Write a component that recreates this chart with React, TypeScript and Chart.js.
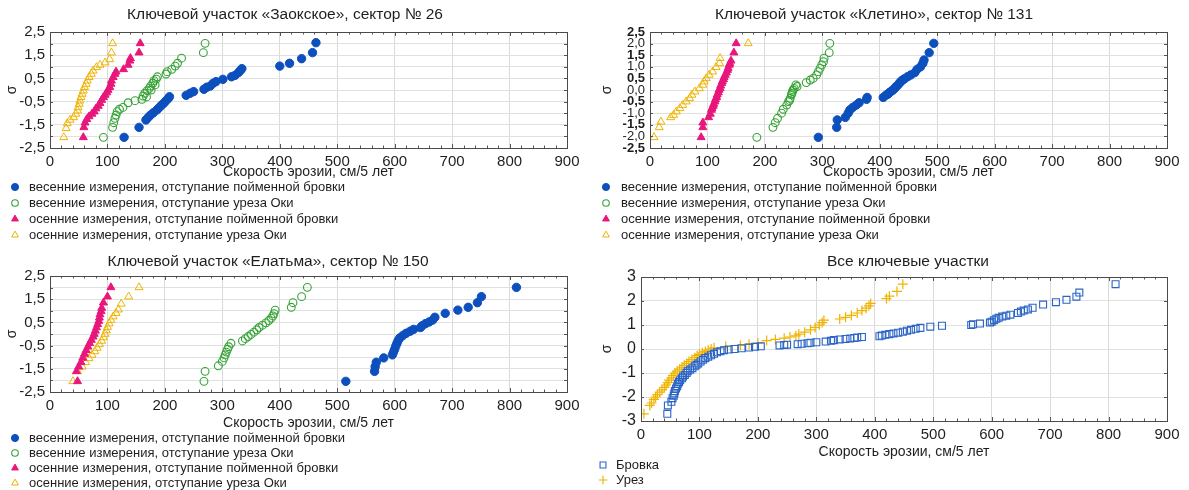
import { useEffect, useRef } from 'react';
import { Chart, registerables } from 'chart.js';
import { drawPoint } from 'chart.js/helpers';

Chart.register(...registerables);

type Pt = [number, number];

// ---------- Ключевой участок «Заокское», сектор № 26 ----------
const zaokBankSpring: Pt[] = [[129,-2.04],[155,-1.61],[167,-1.29],[171,-1.18],[175,-1.08],[180,-0.98],[186,-0.86],[190,-0.76],[194,-0.66],[198,-0.57],[202,-0.46],[206,-0.36],[208,-0.29],[237,-0.23],[244,-0.14],[250,-0.07],[268,0.03],[273,0.12],[279,0.17],[284,0.29],[289,0.36],[301,0.46],[316,0.57],[322,0.63],[328,0.75],[331,0.83],[334,0.92],[400,1.03],[417,1.15],[438,1.35],[457,1.61],[463,2.04]];
const zaokWaterSpring: Pt[] = [[93,-2.04],[109,-1.61],[111,-1.41],[113,-1.22],[115,-1.08],[117,-0.93],[121,-0.83],[127,-0.75],[136,-0.55],[148,-0.46],[160,-0.4],[162,-0.26],[165,-0.14],[168,-0.3],[169,-0.03],[173,0.07],[175,0.17],[176,0.0],[179,0.29],[181,0.4],[183,0.22],[185,0.47],[187,0.57],[202,0.69],[204,0.79],[212,0.89],[218,1.03],[222,1.15],[229,1.37],[267,1.61],[270,2.01]];
const zaokBankAutumn: Pt[] = [[58,-2.04],[59,-1.61],[61,-1.41],[64,-1.26],[68,-1.14],[73,-1.03],[77,-0.93],[80,-0.8],[84,-0.69],[87,-0.57],[90,-0.43],[93,-0.31],[96,-0.21],[99,-0.11],[101,0.0],[104,0.12],[106,0.26],[107,0.4],[110,0.55],[113,0.69],[115,0.79],[128,0.89],[136,1.08],[139,1.26],[140,1.37],[155,1.61],[157,2.01]];
const zaokWaterAutumn: Pt[] = [[24,-2.04],[28,-1.65],[30,-1.44],[35,-1.29],[41,-1.18],[45,-1.03],[48,-0.89],[49,-0.75],[51,-0.6],[52,-0.46],[54,-0.31],[56,-0.17],[58,-0.03],[60,0.12],[63,0.26],[65,0.4],[68,0.55],[72,0.69],[75,0.83],[81,0.98],[87,1.08],[96,1.18],[104,1.32],[107,1.61],[109,2.01]];

// ---------- Ключевой участок «Клетино», сектор № 131 ----------
const kletBankSpring: Pt[] = [[293,-2.04],[325,-1.61],[326,-1.29],[340,-1.18],[345,-1.0],[348,-0.86],[353,-0.75],[359,-0.65],[364,-0.55],[377,-0.4],[378,-0.32],[406,-0.32],[411,-0.22],[414,-0.18],[417,-0.11],[420,-0.05],[423,0.0],[426,0.07],[428,0.14],[431,0.2],[434,0.29],[436,0.34],[438,0.4],[441,0.45],[444,0.5],[449,0.58],[454,0.65],[461,0.75],[465,0.89],[471,1.0],[475,1.15],[477,1.29],[486,1.61],[494,2.01]];
const kletWaterSpring: Pt[] = [[186,-2.04],[214,-1.61],[218,-1.41],[222,-1.22],[229,-1.0],[232,-0.83],[238,-0.65],[241,-0.5],[243,-0.45],[244,-0.36],[246,-0.21],[247,-0.15],[248,-0.07],[249,0.0],[251,0.07],[254,0.22],[256,0.15],[272,0.32],[279,0.43],[284,0.5],[290,0.65],[293,0.79],[296,0.93],[299,1.08],[302,1.22],[303,1.37],[312,1.61],[313,2.01]];
const kletBankAutumn: Pt[] = [[89,-2.04],[92,-1.61],[92,-1.41],[102,-1.18],[105,-1.03],[107,-0.86],[108,-0.78],[110,-0.69],[111,-0.6],[113,-0.5],[114,-0.4],[116,-0.31],[117,-0.2],[119,-0.11],[120,0.0],[122,0.07],[123,0.18],[125,0.29],[126,0.38],[128,0.46],[129,0.55],[131,0.65],[133,0.75],[135,0.86],[136,0.95],[138,1.08],[139,1.15],[141,1.26],[146,1.61],[150,2.01]];
const kletWaterAutumn: Pt[] = [[7,-2.04],[16,-1.61],[19,-1.37],[36,-1.18],[41,-1.08],[46,-0.93],[52,-0.79],[57,-0.65],[63,-0.5],[69,-0.36],[73,-0.21],[78,-0.07],[86,0.07],[92,0.22],[94,0.36],[98,0.5],[103,0.65],[109,0.79],[115,0.98],[121,1.15],[122,1.37],[171,2.01]];

// ---------- Ключевой участок «Елатьма», сектор № 150 ----------
const elatBankSpring: Pt[] = [[515,-2.04],[565,-1.61],[566,-1.41],[568,-1.22],[581,-1.03],[596,-0.9],[598,-0.78],[600,-0.66],[602,-0.52],[604,-0.4],[606,-0.28],[609,-0.17],[614,-0.07],[620,0.03],[627,0.12],[633,0.2],[645,0.28],[648,0.36],[654,0.45],[660,0.52],[666,0.6],[670,0.72],[688,0.89],[710,1.03],[728,1.15],[744,1.35],[751,1.61],[812,2.01]];
const elatWaterSpring: Pt[] = [[268,-2.04],[270,-1.61],[293,-1.37],[300,-1.18],[303,-1.03],[305,-0.9],[307,-0.78],[309,-0.66],[311,-0.55],[315,-0.4],[335,-0.3],[340,-0.2],[345,-0.11],[350,-0.02],[355,0.08],[360,0.18],[364,0.28],[370,0.38],[376,0.48],[381,0.58],[385,0.68],[388,0.78],[390,0.88],[392,1.03],[420,1.15],[423,1.35],[438,1.61],[448,2.01]];
const elatBankAutumn: Pt[] = [[48,-2.04],[46,-1.61],[50,-1.41],[54,-1.22],[57,-1.03],[60,-0.86],[63,-0.7],[66,-0.55],[69,-0.4],[72,-0.26],[75,-0.12],[77,0.0],[79,0.14],[81,0.28],[83,0.42],[85,0.56],[86,0.7],[87,0.84],[89,0.98],[90,1.12],[93,1.35],[100,1.61],[106,2.01]];
const elatWaterAutumn: Pt[] = [[40,-2.04],[48,-1.61],[56,-1.41],[62,-1.22],[68,-1.05],[73,-0.9],[78,-0.75],[82,-0.6],[86,-0.45],[90,-0.3],[93,-0.15],[96,0.0],[98,0.15],[100,0.3],[103,0.45],[106,0.6],[110,0.75],[115,0.9],[119,1.05],[124,1.3],[137,1.61],[155,2.01]];

// ---------- Все ключевые участки ----------
const allBank: Pt[] = [[45,-2.7],[46,-2.35],[52,-2.2],[54,-2.05],[56,-1.95],[57,-1.85],[58,-1.75],[60,-1.65],[62,-1.55],[63,-1.45],[65,-1.38],[67,-1.3],[70,-1.22],[72,-1.15],[75,-1.08],[78,-1.0],[80,-0.93],[84,-0.86],[88,-0.8],[92,-0.72],[95,-0.66],[98,-0.6],[102,-0.52],[106,-0.45],[110,-0.38],[115,-0.32],[120,-0.26],[125,-0.2],[130,-0.14],[136,-0.09],[142,-0.05],[150,-0.02],[160,0.0],[172,0.03],[185,0.06],[195,0.09],[205,0.11],[237,0.15],[245,0.17],[250,0.18],[268,0.2],[275,0.22],[285,0.24],[290,0.26],[300,0.28],[316,0.31],[325,0.34],[330,0.37],[340,0.4],[350,0.42],[358,0.44],[365,0.46],[370,0.48],[378,0.5],[408,0.53],[412,0.56],[418,0.59],[425,0.62],[432,0.65],[440,0.68],[448,0.72],[455,0.76],[462,0.8],[470,0.84],[478,0.88],[495,0.93],[515,0.97],[565,1.0],[568,1.03],[580,1.06],[597,1.1],[600,1.14],[604,1.2],[608,1.26],[612,1.3],[618,1.35],[625,1.39],[632,1.43],[645,1.5],[650,1.56],[655,1.6],[662,1.65],[670,1.72],[688,1.85],[710,1.95],[728,2.05],[745,2.18],[750,2.35],[812,2.7]];
const allWater: Pt[] = [[5,-2.7],[15,-2.35],[18,-2.25],[22,-2.1],[25,-2.0],[28,-1.9],[32,-1.8],[36,-1.7],[40,-1.6],[43,-1.5],[46,-1.4],[48,-1.3],[52,-1.2],[55,-1.1],[58,-1.0],[62,-0.92],[66,-0.84],[70,-0.76],[74,-0.68],[78,-0.6],[82,-0.52],[87,-0.44],[92,-0.36],[96,-0.28],[100,-0.22],[105,-0.16],[110,-0.1],[115,-0.05],[120,0.0],[125,0.05],[145,0.1],[170,0.15],[185,0.2],[200,0.25],[215,0.35],[230,0.4],[245,0.45],[255,0.5],[265,0.55],[270,0.62],[280,0.7],[290,0.8],[298,0.9],[305,1.0],[310,1.1],[313,1.2],[340,1.25],[350,1.32],[360,1.4],[370,1.5],[378,1.6],[385,1.7],[390,1.8],[393,1.9],[420,2.1],[425,2.2],[438,2.4],[448,2.7]];

const titleZaok = 'Ключевой участок «Заокское», сектор № 26';
const titleKlet = 'Ключевой участок «Клетино», сектор № 131';
const titleElat = 'Ключевой участок «Елатьма», сектор № 150';
const titleAll = 'Все ключевые участки';
const xAxisTitle = 'Скорость эрозии, см/5 лет';
const yAxisTitle = 'σ';
const legendFour = [
  'весенние измерения, отступание пойменной бровки',
  'весенние измерения, отступание уреза Оки',
  'осенние измерения, отступание пойменной бровки',
  'осенние измерения, отступание уреза Оки',
];
const legendTwo = ['Бровка', 'Урез'];

const FONT = "'Liberation Sans', Arial, sans-serif";
const TEXT = '#1e1e1e';

type Sty = { pointStyle: string; radius: number; fill: string; stroke: string; bw: number };
const S_BANK_SPRING: Sty = { pointStyle: 'circle', radius: 4.2, fill: '#0c4fbd', stroke: '#0c4fbd', bw: 1 };
const S_WATER_SPRING: Sty = { pointStyle: 'circle', radius: 3.9, fill: 'rgba(255,255,255,0)', stroke: '#36a336', bw: 1.1 };
const S_BANK_AUTUMN: Sty = { pointStyle: 'triangle', radius: 4.6, fill: '#e8177b', stroke: '#e8177b', bw: 1 };
const S_WATER_AUTUMN: Sty = { pointStyle: 'triangle', radius: 4.6, fill: 'rgba(255,255,255,0)', stroke: '#efb300', bw: 1 };
const S_BANK_ALL: Sty = { pointStyle: 'rect', radius: 4.9, fill: 'rgba(255,255,255,0)', stroke: '#2a64c6', bw: 1.1 };
const S_WATER_ALL: Sty = { pointStyle: 'cross', radius: 5, fill: '#efb300', stroke: '#efb300', bw: 1.2 };

type PanelCfg = {
  x: number; y: number; w: number; h: number;
  plot: { l: number; r: number; t: number; b: number };
  title: string; titleX: number; titleY: number;
  yMin: number; yMax: number; yStep: number; yMode: 'odd' | 'all' | 'int';
  xTitleY: number;
  legendX: number; legendTextX: number; legendY: number; legendDY: number;
  series: Pt[][]; styles: Sty[]; labels: string[];
};

const fmt = (n: number) => n.toFixed(1).replace('.', ',');

const PANELS: PanelCfg[] = [
  {
    x: 0, y: 0, w: 595, h: 245, plot: { l: 50, r: 567, t: 32, b: 148 },
    title: titleZaok, titleX: 285, titleY: 15,
    yMin: -2.5, yMax: 2.5, yStep: 0.5, yMode: 'odd', xTitleY: 172,
    legendX: 15, legendTextX: 29, legendY: 187, legendDY: 16,
    series: [zaokBankSpring, zaokWaterSpring, zaokBankAutumn, zaokWaterAutumn],
    styles: [S_BANK_SPRING, S_WATER_SPRING, S_BANK_AUTUMN, S_WATER_AUTUMN], labels: legendFour,
  },
  {
    x: 595, y: 0, w: 594, h: 245, plot: { l: 55, r: 572, t: 32, b: 148 },
    title: titleKlet, titleX: 279, titleY: 15,
    yMin: -2.5, yMax: 2.5, yStep: 0.5, yMode: 'all', xTitleY: 172,
    legendX: 11, legendTextX: 26, legendY: 187, legendDY: 16,
    series: [kletBankSpring, kletWaterSpring, kletBankAutumn, kletWaterAutumn],
    styles: [S_BANK_SPRING, S_WATER_SPRING, S_BANK_AUTUMN, S_WATER_AUTUMN], labels: legendFour,
  },
  {
    x: 0, y: 245, w: 595, h: 245, plot: { l: 50, r: 567, t: 31, b: 147 },
    title: titleElat, titleX: 268, titleY: 17,
    yMin: -2.5, yMax: 2.5, yStep: 0.5, yMode: 'odd', xTitleY: 178,
    legendX: 15, legendTextX: 29, legendY: 193, legendDY: 15,
    series: [elatBankSpring, elatWaterSpring, elatBankAutumn, elatWaterAutumn],
    styles: [S_BANK_SPRING, S_WATER_SPRING, S_BANK_AUTUMN, S_WATER_AUTUMN], labels: legendFour,
  },
  {
    x: 595, y: 245, w: 594, h: 245, plot: { l: 46, r: 572, t: 32, b: 176 },
    title: titleAll, titleX: 313, titleY: 17,
    yMin: -3, yMax: 3, yStep: 1, yMode: 'int', xTitleY: 207,
    legendX: 8, legendTextX: 21, legendY: 220, legendDY: 15,
    series: [allBank, allWater],
    styles: [S_BANK_ALL, S_WATER_ALL], labels: legendTwo,
  },
];

function Panel({ cfg }: { cfg: PanelCfg }) {
  const ref = useRef<HTMLCanvasElement | null>(null);
  useEffect(() => {
    const canvas = ref.current;
    if (!canvas) return;
    const titleLH = 14 * 1.2;
    const xH = cfg.xTitleY - cfg.plot.b + titleLH / 2;
    const decor = {
      id: 'decor',
      afterDraw(chart: any) {
        const { ctx, chartArea: a, scales } = chart;
        ctx.save();
        ctx.strokeStyle = '#555';
        ctx.lineWidth = 1;
        ctx.beginPath();
        for (let v = 0; v <= 900; v += 20) {
          const px = Math.round(scales.x.getPixelForValue(v)) + 0.5;
          const len = v % 100 === 0 ? 4 : 2.5;
          ctx.moveTo(px, a.top); ctx.lineTo(px, a.top + len);
          ctx.moveTo(px, a.bottom); ctx.lineTo(px, a.bottom - len);
        }
        scales.y.ticks.forEach((t: any) => {
          const py = Math.round(scales.y.getPixelForValue(t.value)) + 0.5;
          ctx.moveTo(a.left, py); ctx.lineTo(a.left + 3, py);
          ctx.moveTo(a.right, py); ctx.lineTo(a.right - 3, py);
        });
        ctx.stroke();
        ctx.strokeStyle = '#4a4a4a';
        ctx.strokeRect(Math.round(a.left) + 0.5, Math.round(a.top) + 0.5, Math.round(a.right - a.left), Math.round(a.bottom - a.top));
        ctx.fillStyle = TEXT;
        ctx.font = `15.5px ${FONT}`;
        ctx.textAlign = 'center';
        ctx.textBaseline = 'middle';
        ctx.fillText(cfg.title, cfg.titleX, cfg.titleY);
        cfg.labels.forEach((label, i) => {
          const st = cfg.styles[i];
          const yy = cfg.legendY + i * cfg.legendDY;
          ctx.fillStyle = st.fill;
          ctx.strokeStyle = st.stroke;
          ctx.lineWidth = st.bw;
          drawPoint(ctx, { pointStyle: st.pointStyle as any, radius: st.radius * 0.85, rotation: 0, borderWidth: st.bw }, cfg.legendX, yy);
          ctx.fillStyle = TEXT;
          ctx.font = `13px ${FONT}`;
          ctx.textAlign = 'left';
          ctx.textBaseline = 'middle';
          ctx.fillText(label, cfg.legendTextX, yy);
        });
        ctx.restore();
      },
    };

    const datasets = cfg.series.map((s, i) => {
      const st = cfg.styles[i];
      return {
        label: cfg.labels[i],
        data: s.map(([x, y]) => ({ x, y })),
        showLine: false,
        pointStyle: st.pointStyle as any,
        pointRadius: st.radius,
        pointBackgroundColor: st.fill,
        pointBorderColor: st.stroke,
        pointBorderWidth: st.bw,
      };
    });

    const yCallback = (v: any) => {
      const n = Number(v);
      if (cfg.yMode === 'int') return String(Math.round(n));
      if (cfg.yMode === 'all') return fmt(n);
      return Math.abs(Math.round(n * 2)) % 2 === 1 ? fmt(n) : '';
    };

    const chart = new Chart(canvas, {
      type: 'scatter',
      data: { datasets },
      plugins: [decor],
      options: {
        animation: false,
        responsive: false,
        devicePixelRatio: 1,
        layout: {
          padding: { left: 0, top: cfg.plot.t, right: cfg.w - cfg.plot.r, bottom: cfg.h - cfg.plot.b - xH },
        },
        plugins: { legend: { display: false }, tooltip: { enabled: false }, title: { display: false } },
        scales: {
          x: {
            type: 'linear', min: 0, max: 900,
            ticks: { stepSize: 100, autoSkip: false, maxRotation: 0, padding: 5, color: TEXT, font: { family: FONT, size: 15 }, callback: (v: any) => String(v) },
            grid: { color: '#dadada', drawTicks: false },
            border: { display: false },
            title: { display: true, text: xAxisTitle, color: TEXT, font: { family: FONT, size: 14 }, padding: 0 },
            afterFit: (s: any) => { s.height = xH; },
          },
          y: {
            type: 'linear', min: cfg.yMin, max: cfg.yMax,
            ticks: {
              stepSize: cfg.yStep, autoSkip: false, padding: 5, color: TEXT,
              font: (c: any) => {
                const v = c.tick ? c.tick.value : 0;
                if (cfg.yMode === 'all') {
                  const odd = Math.abs(Math.round(v * 2)) % 2 === 1;
                  return { family: FONT, size: 13, weight: odd ? 'bold' : 'normal' };
                }
                return { family: FONT, size: cfg.yMode === 'int' ? 16 : 15 };
              },
              callback: yCallback,
            },
            grid: { color: '#e0e0e0', drawTicks: false },
            border: { display: false },
            title: { display: true, text: yAxisTitle, color: TEXT, font: { family: FONT, size: 14 }, padding: { top: 4, bottom: 0 } },
            afterFit: (s: any) => { s.width = cfg.plot.l; },
          },
        },
      } as any,
    });
    return () => chart.destroy();
  }, [cfg]);
  return (
    <canvas
      ref={ref}
      width={cfg.w}
      height={cfg.h}
      style={{ position: 'absolute', left: cfg.x, top: cfg.y, width: cfg.w, height: cfg.h }}
    />
  );
}

export default function App() {
  return (
    <div style={{ position: 'absolute', left: 0, top: 0, width: 1189, height: 490, background: '#fff', overflow: 'hidden' }}>
      {PANELS.map((p, i) => (
        <Panel key={i} cfg={p} />
      ))}
    </div>
  );
}
